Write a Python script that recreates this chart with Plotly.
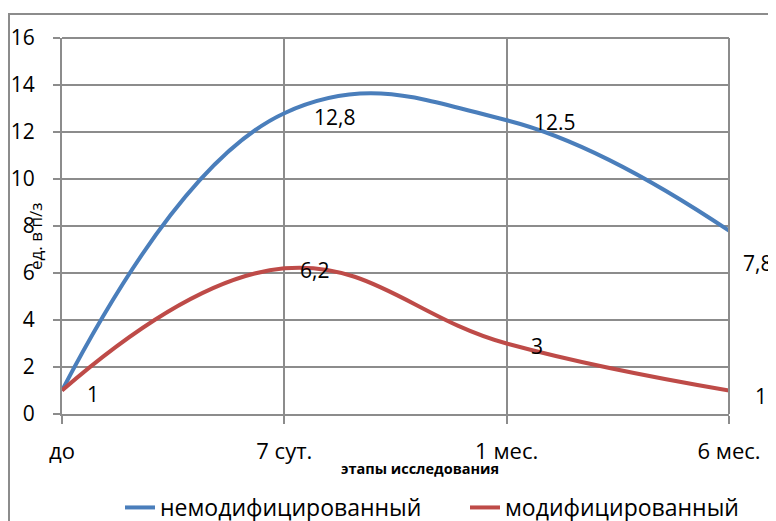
import plotly.graph_objects as go

categories = ["до", "7 сут.", "1 мес.", "6 мес."]
unmodified = [1, 12.8, 12.5, 7.8]
modified = [1, 6.2, 3, 1]
unmod_labels = ["1", "12,8", "12.5", "7,8"]
mod_labels = ["", "6,2", "3", "1"]
y_ticks = [0, 2, 4, 6, 8, 10, 12, 14, 16]

BLUE = "#4A7EBB"
RED = "#BE4B48"
GRID = "#8C8C8C"
FONT = "Open Sans"

# figure geometry in figure pixels (page body adds an 8px offset)
W, H = 768, 513
L, T, PW, PH = 54, 30, 667, 376

xi = list(range(len(categories)))

fig = go.Figure()
fig.add_trace(go.Scatter(x=xi, y=unmodified, mode="lines", name="немодифицированный",
                         legend="legend",
                         line=dict(color=BLUE, width=4, shape="spline", smoothing=1.2)))
fig.add_trace(go.Scatter(x=xi, y=modified, mode="lines", name="модифицированный",
                         legend="legend2",
                         line=dict(color=RED, width=4, shape="spline", smoothing=1.2)))

# data labels
unmod_shift = [(31, -3), (50, -4), (48, -2), (28, -32)]
mod_shift = [(0, 0), (30, -2), (30, -2), (32, -5)]
for i in xi:
    fig.add_annotation(x=xi[i], y=unmodified[i], text=unmod_labels[i], showarrow=False,
                       xshift=unmod_shift[i][0], yshift=unmod_shift[i][1],
                       font=dict(family=FONT, size=21, color="#000"))
    if mod_labels[i]:
        fig.add_annotation(x=xi[i], y=modified[i], text=mod_labels[i], showarrow=False,
                           xshift=mod_shift[i][0], yshift=mod_shift[i][1],
                           font=dict(family=FONT, size=21, color="#000"))


def px(fx):
    return (fx - L) / PW


def py(fy):
    return (T + PH - fy) / PH


# y-axis title
fig.add_annotation(xref="paper", yref="paper", x=px(27), y=py(229), text="ед. в п/з",
                   textangle=-90, showarrow=False, xanchor="center", yanchor="middle",
                   font=dict(family=FONT, size=17, color="#000"))
# x-axis title
fig.add_annotation(xref="paper", yref="paper", x=px(412), y=py(461),
                   text="<b>этапы исследования</b>", xanchor="center", yanchor="middle",
                   showarrow=False, font=dict(family=FONT, size=14.5, color="#000"))

# outer chart border
fig.add_shape(type="rect", xref="paper", yref="paper",
              x0=px(1), x1=px(800), y0=py(560), y1=py(6),
              line=dict(color=GRID, width=2), fillcolor="rgba(0,0,0,0)", layer="below")

legend_common = dict(orientation="h", xref="container", yref="container",
                     xanchor="left", y=1 - 478 / H, yanchor="top",
                     font=dict(family=FONT, size=23, color="#000"),
                     bgcolor="rgba(0,0,0,0)")

fig.update_layout(
    width=W, height=H,
    margin=dict(l=L, r=W - L - PW, t=T, b=H - T - PH, autoexpand=False),
    paper_bgcolor="white", plot_bgcolor="white",
    font=dict(family=FONT, size=20, color="#000"),
    showlegend=True,
    legend=dict(x=112 / W, **legend_common),
    legend2=dict(x=457 / W, **legend_common),
    xaxis=dict(range=[0, 3], tickmode="array", tickvals=xi, ticktext=categories,
               showgrid=True, gridcolor=GRID, gridwidth=1.5,
               showline=True, linecolor=GRID, linewidth=2,
               ticks="outside", ticklen=8, tickcolor=GRID, tickwidth=2,
               ticklabelstandoff=9, automargin=False,
               tickfont=dict(family=FONT, size=22), zeroline=False, fixedrange=True),
    yaxis=dict(range=[0, 16], tickmode="array", tickvals=y_ticks,
               showgrid=True, gridcolor=GRID, gridwidth=1.5,
               showline=True, linecolor=GRID, linewidth=2,
               ticks="outside", ticklen=7, tickcolor=GRID, tickwidth=2,
               ticklabelstandoff=14, automargin=False,
               tickfont=dict(family=FONT, size=21), zeroline=False, fixedrange=True),
)
fig.add_shape(type="line", xref="paper", yref="paper", x0=1, x1=1, y0=0, y1=1,
              line=dict(color=GRID, width=2))
fig.add_shape(type="line", xref="paper", yref="paper", x0=0, x1=1, y0=1, y1=1,
              line=dict(color=GRID, width=2))

fig.write_html("out.html")
